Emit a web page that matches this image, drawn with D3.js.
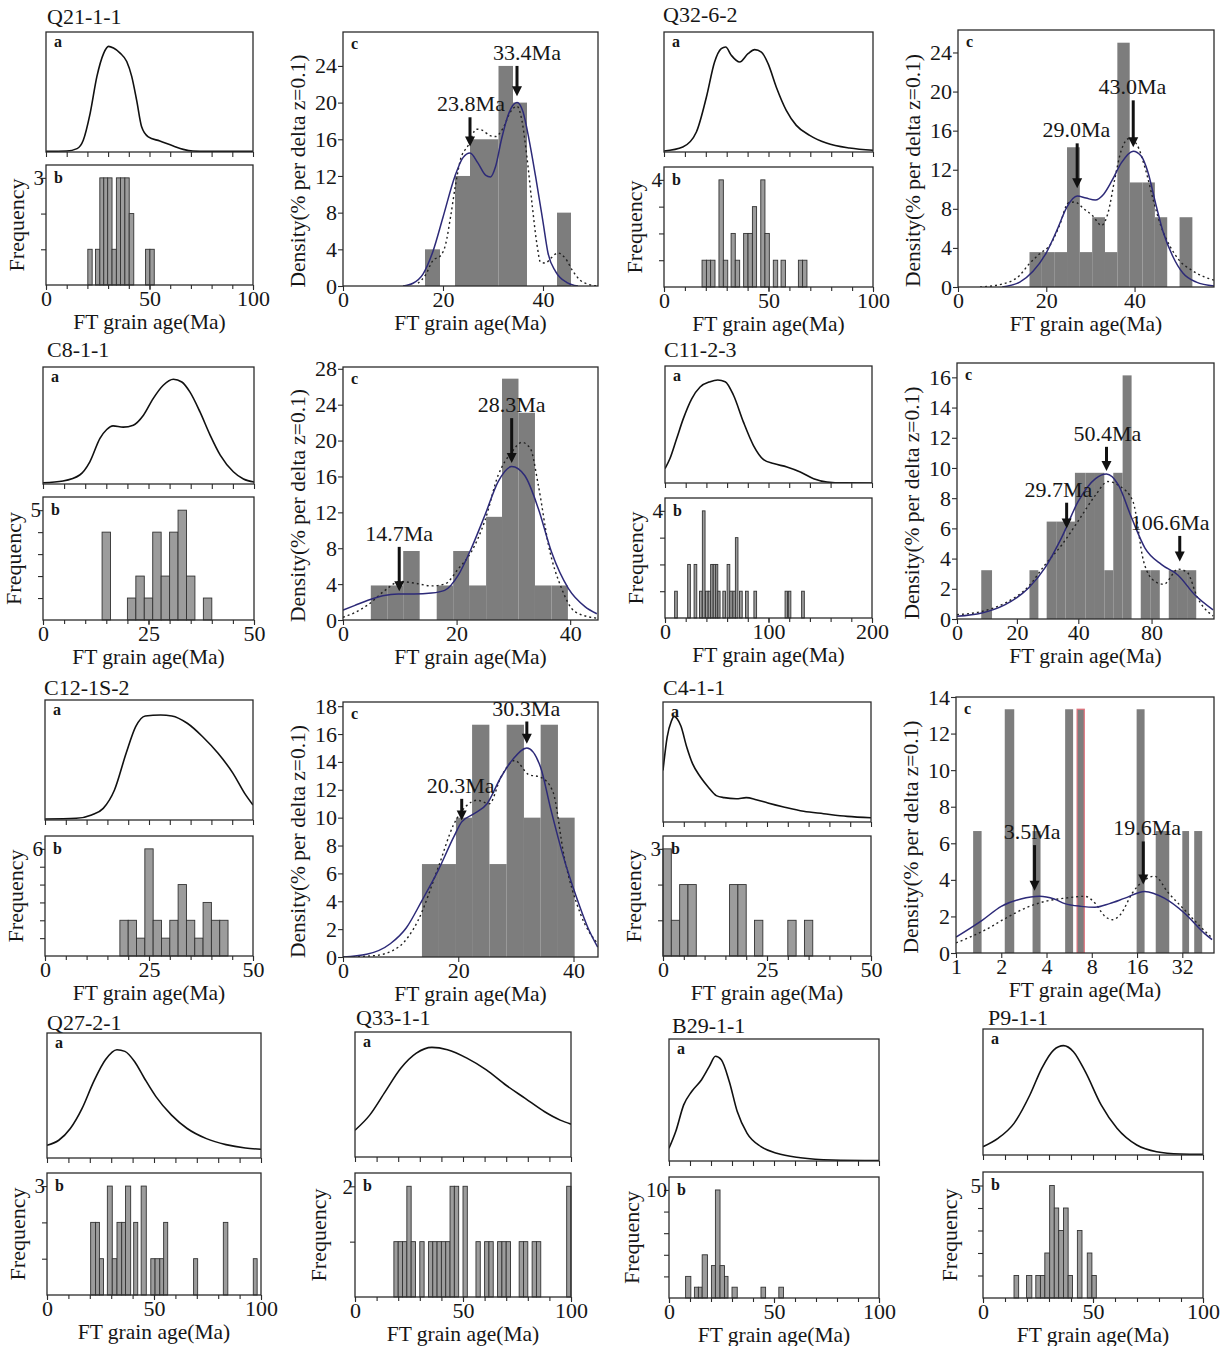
<!DOCTYPE html>
<html>
<head>
<meta charset="utf-8">
<script src="https://cdn.jsdelivr.net/npm/d3@7"></script>
<style>
  body { margin: 0; background: #fff; overflow: hidden; }
  svg { display: block; }
</style>
</head>
<body>
<svg id="chart" width="1231" height="1346"></svg>
<script>
// ---------------------------------------------------------------------------
// Fission-track grain-age data.
// xxxCurve : probability density (a), [age Ma, relative density 0-100]
// xxxHist  : grain-age histogram (b), [from Ma, to Ma, count]
// xxxBars  : density histogram (c), [from Ma, to Ma, % per delta z]
// xxxPdf   : fitted density (c, solid), [age Ma, %]
// xxxDotted: observed density (c, dotted), [age Ma, %]
// xxxPeaks : fitted peak ages (c)
// ---------------------------------------------------------------------------

// Q21-1-1
const q21Curve = [[0,0.6],[10,0.8],[15,2.8],[18,9.8],[21.3,32],[24.6,63],[27.8,82],[30.2,88],[32.6,86.6],[35.8,82.4],[39,75.4],[41.4,63],[43.8,43],[46.2,21],[49.4,12.6],[55,9.2],[61.5,5],[66.3,2.2],[71,0.8],[78,0.5],[100,0.5]];
const q21Hist = [[20.2,22.3,1],[23.9,26.0,1],[26.0,27.9,3],[27.9,29.8,3],[29.8,31.9,3],[31.9,34.0,1],[34.0,36.0,3],[36.0,38.1,3],[38.1,40.2,3],[40.2,42.4,2],[48.1,50.2,1],[50.2,52.3,1]];
const q21Bars = [[16.4,19.4,4],[22.4,25.4,12],[25.4,28.2,16],[28.2,31.1,16],[31.1,34.0,24],[34.0,36.8,20],[42.8,45.6,8]];
const q21Pdf = [[12,0],[14,0.3],[16,1.3],[18,3.8],[20,7.5],[22.4,12],[24,14],[25.4,14.5],[27,13.4],[28.5,12.1],[29.5,11.9],[30.5,13],[31.7,16],[33,18.6],[34.8,20],[36,19],[37.2,16],[38.5,12],[40,7],[41,3.6],[42.5,1.6],[44.7,0.4],[47,0]];
const q21Dotted = [[15,0.3],[16.5,1.2],[18,2.8],[19.5,3.3],[20.5,4.5],[21.5,7.5],[22.5,11],[23.5,13.8],[25,15.3],[26.7,17.1],[27.8,17],[29.4,16.4],[30.5,16.3],[32,17.2],[33.5,19],[34.8,19.6],[35.8,18],[36.8,14],[37.8,9],[38.8,4.5],[39.5,2.6],[40.5,2.5],[41.5,3],[43,3.6],[44.5,3],[46,1.6],[47.5,0.6],[49,0.2],[51,0]];
const q21Peaks = [
  { label: "23.8Ma", age: 25.4, tip: 15.2, tail: 18.4, at: 25.6 },
  { label: "33.4Ma", age: 34.8, tip: 20.7, tail: 24.0, at: 36.8 }
];

// Q32-6-2
const q32Curve = [[0,0.8],[9,4.2],[15.5,16.7],[20.3,45.8],[24.2,75],[27.4,86.1],[29.5,87.5],[32.2,80.6],[36.2,75],[40.2,81.9],[43.4,85.3],[46.6,83.3],[49.8,73.6],[53.7,54.2],[58.5,34.7],[63.3,22.2],[69.7,13.9],[77.7,7.5],[88.8,3.3],[100,1.4]];
const q32Hist = [[18.2,20.3,1],[20.3,22.3,1],[22.3,24.4,1],[26.3,28.4,4],[28.4,30.5,1],[32.1,34.1,2],[34.1,36.2,1],[38.1,40.2,2],[40.2,42.3,2],[42.3,44.3,3],[46.3,48.3,4],[48.3,50.4,2],[52.3,54.4,1],[56.0,58.1,1],[64.3,66.3,1],[66.3,68.4,1]];
const q32Bars = [[16.2,19.0,3.57],[19.0,21.8,3.57],[21.8,24.7,3.57],[24.7,27.6,14.3],[27.6,30.4,3.57],[30.4,33.3,7.14],[33.3,36.1,3.57],[36.1,38.9,25],[38.9,41.8,10.7],[41.8,44.6,10.7],[44.6,47.4,7.14],[50.2,53.1,7.14]];
const q32Pdf = [[10,0],[14,0.5],[17,1.6],[20,3.5],[22.5,5.9],[24.7,8.2],[27,9.3],[29,9.1],[31.1,8.9],[33,9.5],[34.9,10.9],[37,12.7],[39.7,13.9],[41.5,13.4],[43,11.8],[44.8,8.5],[46.5,5.6],[48.6,3.2],[51,1.4],[54,0.5],[58,0.1]];
const q32Dotted = [[5,0],[10,0.3],[14,1.2],[16,2.3],[18.5,3.4],[21,4.4],[23,6.3],[25,8.6],[26.5,8.7],[28.5,8],[30.5,7.3],[32.5,6.3],[34,7.6],[35.5,11],[37,14],[38.8,15.2],[40.5,14.6],[42.5,12],[44.3,8.8],[46,6.2],[48,4.2],[50,2.8],[53,1.7],[56,1],[58,0.7]];
const q32Peaks = [
  { label: "29.0Ma", age: 27.0, tip: 10.1, tail: 14.7, at: 26.8 },
  { label: "43.0Ma", age: 39.7, tip: 14.3, tail: 19.1, at: 39.5 }
];

// C8-1-1
const c8Curve = [[0,1.1],[4.75,2.6],[8.7,7.7],[11.1,19],[13.5,39],[15.1,46.6],[16.6,49.7],[19,48.6],[21.4,50.3],[23.8,58.8],[26.1,73],[28.5,84.4],[30.9,89.5],[32.9,87.2],[34.8,78.7],[37.2,61.6],[39.6,41.8],[42,24.7],[45.1,10.5],[47.5,4.3],[50,1.7]];
const c8Hist = [[14,16,4],[20,22,1],[22,24,2],[24,26,1],[26,28,4],[28,30,2],[30,32,4],[32,34,5],[34,36,2],[38,40,1]];
const c8Bars = [[4.9,7.8,3.85],[7.8,10.6,3.85],[10.6,13.5,7.69],[16.5,19.4,3.85],[19.4,22.2,7.69],[22.2,25.2,3.85],[25.2,28.0,11.5],[28.0,30.9,26.9],[30.9,33.8,23.1],[33.8,36.7,3.85],[36.7,39.6,3.85]];
const c8Pdf = [[0,1.1],[2,1.6],[4.4,2.2],[7,2.7],[9.7,2.9],[12.5,2.9],[15.6,3.0],[17.9,3.3],[20.3,5.0],[22.6,8.0],[25,11.7],[27.3,15.4],[29.7,17.1],[32,16.1],[34.4,12.4],[36.7,7.6],[39.7,3.5],[42.6,1.5],[44.7,0.7]];
const c8Dotted = [[0,0.3],[2,0.8],[4.4,1.7],[7.4,3.3],[10,4.3],[12.7,4.1],[15.6,3.8],[17.9,4.0],[20.3,5.7],[22.6,7.6],[25,11.1],[27.3,16.1],[29.7,18.7],[31.5,19.8],[33,19.1],[34.4,15],[36.2,8.3],[38.5,3.5],[40.9,0.9],[44.7,0.2]];
const c8Peaks = [
  { label: "14.7Ma", age: 9.9, tip: 3.2, tail: 8.15, at: 9.9 },
  { label: "28.3Ma", age: 29.7, tip: 17.5, tail: 22.5, at: 29.7 }
];

// C11-2-3
const c11Curve = [[0,12.3],[4.8,20.9],[11.3,38],[17.7,55],[25.8,72],[33.9,82],[43.6,86.6],[51,88],[58.1,86.6],[66.2,75],[75.8,52],[85.5,32],[95.2,20],[104.9,16.6],[117.8,13.7],[130.7,9.4],[143.6,3.7],[156.5,0.9],[172.6,0.1],[200,0]];
const c11Hist = [[9.3,11.9,1],[21.9,24.5,2],[28.1,30.7,2],[33.3,35.9,1],[36.1,38.7,4],[39.1,41.7,1],[41.7,44.1,1],[44.1,46.5,2],[46.6,49,2],[49,51,2],[51,53.2,1],[55.9,58.4,1],[60,62.6,2],[62.6,65,1],[65.6,68,1],[68,70.5,3],[72,74.6,1],[77.8,80.4,1],[85.9,88.5,1],[116,118.4,1],[119.2,121.6,1],[132,134.6,1]];
const c11Bars = [[8.1,11.7,3.23],[24.1,27.0,3.23],[29.7,32.8,6.45],[32.8,35.8,6.45],[35.8,38.9,6.45],[38.9,44,9.68],[44,49.1,9.68],[49.1,54.2,9.68],[54.2,59.1,3.23],[59.1,64.2,9.68],[64.2,69.1,16.13],[74.1,79.3,3.23],[79.3,84.5,3.23],[89.4,94.4,3.23],[94.4,99.4,3.23],[99.4,104.4,3.23]];
const c11Pdf = [[0,0.18],[8.3,0.4],[16.1,0.95],[23.8,2.05],[29.2,3.4],[34.6,5.4],[40,7.8],[49.4,9.3],[55.4,9.6],[61.8,8.9],[69.1,6.7],[76.4,4.7],[85.5,3.6],[94.5,2.9],[103.6,1.6],[113.6,0.6]];
const c11Dotted = [[0,0.29],[8.3,0.5],[16.1,1.06],[23.8,2.16],[29.2,3.6],[34.6,4.9],[40,6.5],[49.4,8.2],[56.1,9.1],[62.6,8.8],[69.8,7.8],[75.7,3.8],[81.7,2.5],[86.6,2.3],[94.5,3.3],[99.4,3.1],[105.1,1.4],[113.6,0.2]];
const c11Peaks = [
  { label: "29.7Ma", age: 36.2, tip: 6.0, tail: 7.7, at: 33.5 },
  { label: "50.4Ma", age: 55.4, tip: 9.8, tail: 11.4, at: 55.9 },
  { label: "106.6Ma", age: 95.4, tip: 3.8, tail: 5.5, at: 90.1 }
];
const c11AxisAges = [0, 20, 40, 80, 114.1];      // age stops of the z axis
const c11AxisStops = [0, 0.233, 0.472, 0.757, 1]; // matching axis fractions

// C12-1S-2
const c12Curve = [[0,0.8],[7.5,1.4],[11.2,4.2],[14,9.7],[16.7,25],[19.5,55.6],[21.8,77.8],[24.1,86.7],[27.8,87.5],[30.5,86.7],[34.2,80.6],[37.9,69.4],[41.6,55.6],[45.2,38.9],[48,22.2],[50,12.5]];
const c12Hist = [[18,20,2],[20,22,2],[22,24,1],[24,26,6],[26,28,2],[28,30,1],[30,32,2],[32,34,4],[34,36,2],[36,38,1],[38,40,3],[40,42,2],[42,44,2]];
const c12Bars = [[13.7,16.65,6.67],[16.65,19.6,6.67],[19.6,22.4,10],[22.4,25.4,16.67],[25.4,28.4,6.67],[28.4,31.4,16.67],[31.4,34.3,10],[34.3,37.3,16.67],[37.3,40.2,10]];
const c12Pdf = [[0,0],[4.1,0.19],[8.2,0.95],[11,2.1],[13.7,4.05],[16.5,6.2],[19.2,8.6],[20.6,9.7],[22.6,10.25],[25,11],[27.4,12.9],[29.5,14.2],[31.9,15.0],[34.3,13.6],[36,10.7],[38.1,7.4],[40.5,4.3],[42.5,2.1],[44.2,0.7]];
const c12Dotted = [[0,0],[5.5,0.1],[9.6,0.7],[13,2.6],[16.5,6.4],[19.2,9.5],[21.3,10.8],[23.3,11.25],[25.4,11],[27.4,12.9],[29.8,14.1],[32.2,13.1],[34.3,12.9],[36.4,11.9],[38.4,7.15],[41.2,3.1],[44.2,0.95]];
const c12Peaks = [
  { label: "20.3Ma", age: 20.6, tip: 9.8, tail: 11.35, at: 20.4 },
  { label: "30.3Ma", age: 31.9, tip: 15.3, tail: 16.9, at: 31.8 }
];

// C4-1-1
const c4Curve = [[0,43],[1.0,70.8],[2.0,84],[2.7,88],[3.4,86],[4.3,80],[5.7,62.5],[7.1,48.6],[9,37.5],[10.9,29],[12.8,22],[14.7,20.3],[17.6,19.4],[20,20.3],[22.4,18.6],[25.2,15.8],[29,12.5],[33.8,8.9],[38.6,6.9],[44.3,4.7],[50,3.6]];
const c4Hist = [[0,2,3],[2,4,1],[4,6,2],[6,8,2],[16,18,2],[18,20,2],[22,24,1],[30,32,1],[34,36,1]];
const c4Bars = [[1.30,1.48,6.67],[2.11,2.44,13.33],[3.23,3.65,6.67],[5.32,6.01,13.33],[6.39,7.13,13.33],[15.9,17.96,13.33],[21.3,26.2,6.67],[32,35.5,6.67],[38.4,43.4,6.67]];
const c4Pdf = [[1,0.87],[1.5,1.8],[2.0,2.55],[2.7,2.95],[3.6,3.1],[4.5,2.95],[5.3,2.7],[6.8,2.55],[8.4,2.5],[10.5,2.7],[13.3,3.0],[18,3.37],[24.3,3.0],[33,2.19],[44.7,1.09],[50.5,0.73]];
const c4Dotted = [[1,0.55],[1.58,1.28],[2.14,1.9],[2.9,2.46],[3.9,2.82],[5.3,3.0],[7.2,3.1],[8.4,2.73],[9.8,2.0],[11,1.82],[12.4,2.1],[14.9,3.28],[18,4.0],[20.9,4.2],[25.9,3.28],[33,2.37],[42,1.46],[50.5,0.82]];
const c4Peaks = [
  { label: "3.5Ma", age: 3.33, tip: 3.4, tail: 5.9, at: 3.21 },
  { label: "19.6Ma", age: 17.6, tip: 3.75, tail: 6.1, at: 18.7 }
];

// Q27-2-1
const q27Curve = [[0,10.2],[5.5,14.2],[10.9,23.6],[16.4,39.7],[21.8,61.1],[27.3,78.6],[32.7,86.6],[36.4,85.3],[40.9,77.2],[45.5,63.8],[50.9,49.1],[58.2,34.3],[65.5,23.6],[74.5,15.5],[83.6,10.7],[92.7,8],[100,7]];
const q27Hist = [[20.4,22.7,2],[22.7,24.5,2],[24.5,26.4,1],[28.2,30.5,3],[30.5,32.7,1],[32.7,34.9,2],[34.9,36.7,2],[36.7,39.1,3],[40.5,42.4,2],[44,46.4,3],[48.5,50.5,1],[50.5,52.7,1],[52.7,54.5,1],[54.5,56.4,2],[68.5,70.4,1],[82.4,84.5,2],[96.4,98.2,1]];

// Q33-1-1
const q33Curve = [[0,21.4],[6.8,33.5],[14,52.3],[21.2,71],[28.4,83.1],[35.6,87.7],[42.8,85.8],[51.8,79.1],[60.8,69.7],[69.8,57.6],[78.8,46.9],[87.8,36.2],[95,29.5],[100,26.3]];
const q33Hist = [[18,20,1],[20,22,1],[22,24,1],[24,26,2],[26,28,1],[30,32,1],[34,36,1],[36,38,1],[38,40,1],[40,42,1],[42,44,1],[44,46,2],[46,48,2],[50,52,2],[56,58,1],[60,62,1],[62,64,1],[66,68,1],[68,70,1],[70,72,1],[76,78,1],[78,80,1],[82,84,1],[84,86,1],[98,100,2]];

// B29-1-1
const b29Curve = [[0,10.4],[3.2,24.1],[7,46],[10.8,57],[15.5,66.6],[19.2,77.5],[22.1,85.8],[24.9,83],[28.7,65.2],[32.5,40.5],[37.2,22.7],[43.8,11.8],[51.3,6.3],[62.6,2.7],[77.7,0.8],[100,0.3]];
const b29Hist = [[7.9,10.4,2],[12.1,14,1],[14,15.8,1],[15.8,18.3,4],[20.2,22.1,3],[22.1,24.3,10],[24.3,26.4,3],[26.4,28.1,2],[30,32.5,1],[43.8,46,1],[52.3,54.5,1]];

// P9-1-1
const p9Curve = [[0,6.6],[6.8,13.2],[14.1,25.1],[21.3,47.6],[26.7,68.8],[32.1,83.3],[36.6,86.8],[41.1,82],[46.5,66.1],[53.7,39.7],[60.9,21.2],[69.9,7.9],[78.9,2.6],[89.7,0.8],[100,0.5]];
const p9Hist = [[14.1,16.2,1],[19.8,22.2,1],[24,26.1,1],[26.1,28.1,1],[28.1,30.3,2],[30.3,32.4,5],[32.4,34.4,4],[34.4,36.6,3],[36.6,38.7,4],[38.7,40.7,1],[42.9,45,3],[47.4,49.5,2],[49.5,51.5,1]];

// ---------------------------------------------------------------------------
// Panel layout
// ---------------------------------------------------------------------------
const samples = [
  { name: "Q21-1-1",  tx: 47,  ty: 24,   left: 46,  right: 253, aTop: 32,   aBot: 152,  bTop: 165,  bBot: 285,  xMax: 100, xTicks: [0,50,100],  fMax: 3,  fGap: 22, curve: q21Curve, hist: q21Hist },
  { name: "Q32-6-2",  tx: 663, ty: 22,   left: 664, right: 873, aTop: 32,   aBot: 152,  bTop: 167,  bBot: 287,  xMax: 100, xTicks: [0,50,100],  fMax: 4,  fGap: 22, curve: q32Curve, hist: q32Hist },
  { name: "C8-1-1",   tx: 47,  ty: 357,  left: 43,  right: 254, aTop: 367,  aBot: 484,  bTop: 497,  bBot: 620,  xMax: 50,  xTicks: [0,25,50],   fMax: 5,  fGap: 22, curve: c8Curve,  hist: c8Hist },
  { name: "C11-2-3",  tx: 664, ty: 357,  left: 665, right: 872, aTop: 366,  aBot: 483,  bTop: 498,  bBot: 618,  xMax: 200, xTicks: [0,100,200], fMax: 4,  fGap: 22, curve: c11Curve, hist: c11Hist },
  { name: "C12-1S-2", tx: 44,  ty: 695,  left: 45,  right: 253, aTop: 700,  aBot: 820,  bTop: 836,  bBot: 956,  xMax: 50,  xTicks: [0,25,50],   fMax: 6,  fGap: 22, curve: c12Curve, hist: c12Hist },
  { name: "C4-1-1",   tx: 663, ty: 695,  left: 663, right: 871, aTop: 702,  aBot: 822,  bTop: 836,  bBot: 956,  xMax: 50,  xTicks: [0,25,50],   fMax: 3,  fGap: 22, curve: c4Curve,  hist: c4Hist },
  { name: "Q27-2-1",  tx: 47,  ty: 1030, left: 47,  right: 261, aTop: 1033, aBot: 1158, bTop: 1173, bBot: 1295, xMax: 100, xTicks: [0,50,100],  fMax: 3,  fGap: 22, curve: q27Curve, hist: q27Hist },
  { name: "Q33-1-1",  tx: 356, ty: 1025, left: 355, right: 571, aTop: 1032, aBot: 1157, bTop: 1173, bBot: 1297, xMax: 100, xTicks: [0,50,100],  fMax: 2,  fGap: 29, curve: q33Curve, hist: q33Hist },
  { name: "B29-1-1",  tx: 672, ty: 1033, left: 669, right: 879, aTop: 1039, aBot: 1161, bTop: 1177, bBot: 1298, xMax: 100, xTicks: [0,50,100],  fMax: 10, fGap: 30, curve: b29Curve, hist: b29Hist },
  { name: "P9-1-1",   tx: 988, ty: 1025, left: 983, right: 1203, aTop: 1029, aBot: 1155, bTop: 1172, bBot: 1298, xMax: 100, xTicks: [0,50,100], fMax: 5,  fGap: 26, curve: p9Curve,  hist: p9Hist }
];

const densityPanels = [
  { left: 343, right: 598,  top: 32,  bottom: 286, type: "linear", xMax: 51,    xTicks: [0,20,40], yMax: 27.7,  yStep: 4, bars: q21Bars, pdf: q21Pdf, dotted: q21Dotted, peaks: q21Peaks },
  { left: 958, right: 1214, top: 30,  bottom: 287, type: "linear", xMax: 58,    xTicks: [0,20,40], yMax: 26.3,  yStep: 4, bars: q32Bars, pdf: q32Pdf, dotted: q32Dotted, peaks: q32Peaks },
  { left: 343, right: 598,  top: 367, bottom: 620, type: "linear", xMax: 44.9,  xTicks: [0,20,40], yMax: 28.2,  yStep: 4, bars: c8Bars,  pdf: c8Pdf,  dotted: c8Dotted,  peaks: c8Peaks },
  { left: 957, right: 1214, top: 363, bottom: 619, type: "z",      xTicks: [0,20,40,80],             yMax: 16.95, yStep: 2, bars: c11Bars, pdf: c11Pdf, dotted: c11Dotted, peaks: c11Peaks },
  { left: 343, right: 598,  top: 702, bottom: 957, type: "linear", xMax: 44.25, xTicks: [0,20,40], yMax: 18.3,  yStep: 2, bars: c12Bars, pdf: c12Pdf, dotted: c12Dotted, peaks: c12Peaks },
  { left: 956, right: 1214, top: 697, bottom: 953, type: "log",    xMin: 1, xMax: 52, xTicks: [1,2,4,8,16,32], yMax: 14, yStep: 2, bars: c4Bars, pdf: c4Pdf, dotted: c4Dotted, peaks: c4Peaks, redEdge: [4] }
];

// ---------------------------------------------------------------------------
const FONT = "'Liberation Serif', 'Times New Roman', Times, serif";
const INK = "#2b2b2b";
const TEXT = "#161616";
const svg = d3.select("#chart");
svg.append("rect").attr("width", 1231).attr("height", 1346).attr("fill", "#fff");

let clipCount = 0;
function clipRect(x, y, w, h) {
  const id = "clip" + (clipCount++);
  svg.append("clipPath").attr("id", id)
    .append("rect").attr("x", x).attr("y", y).attr("width", w).attr("height", h);
  return "url(#" + id + ")";
}

function styleAxis(g, size) {
  g.select(".domain").remove();
  g.selectAll(".tick line").attr("stroke", INK).attr("stroke-width", 1.1);
  g.selectAll(".tick text").attr("font-family", FONT).attr("font-size", size).attr("fill", TEXT);
}

function frame(x0, y0, x1, y1) {
  svg.append("rect").attr("x", x0).attr("y", y0)
    .attr("width", x1 - x0).attr("height", y1 - y0)
    .attr("fill", "none").attr("stroke", INK).attr("stroke-width", 1.3);
}

function panelLetter(txt, x, y) {
  svg.append("text").attr("x", x).attr("y", y).text(txt)
    .attr("font-family", FONT).attr("font-size", 16).attr("font-weight", "bold").attr("fill", TEXT);
}

// ---- a / b panels: density curve and grain-age histogram -------------------
samples.forEach(s => {
  const x = d3.scaleLinear().domain([0, s.xMax]).range([s.left, s.right]);
  const yA = d3.scaleLinear().domain([0, 100]).range([s.aBot, s.aTop]);
  const yB = d3.scaleLinear().domain([0, s.fMax * 1.12]).range([s.bBot, s.bTop]);
  const minorTicks = d3.range(11).map(i => i * s.xMax / 10);

  svg.append("text").attr("x", s.tx).attr("y", s.ty).text(s.name)
    .attr("font-family", FONT).attr("font-size", 22).attr("fill", TEXT);

  // panel a
  const clipA = clipRect(s.left, s.aTop, s.right - s.left, s.aBot - s.aTop);
  svg.append("path").datum(s.curve)
    .attr("clip-path", clipA)
    .attr("d", d3.line().x(d => x(d[0])).y(d => yA(d[1])).curve(d3.curveMonotoneX))
    .attr("fill", "none").attr("stroke", "#111").attr("stroke-width", 1.6);
  frame(s.left, s.aTop, s.right, s.aBot);
  svg.append("g").attr("transform", `translate(0,${s.aBot})`)
    .call(d3.axisBottom(x).tickValues(minorTicks).tickSize(5).tickFormat(""))
    .call(g => styleAxis(g, 20));
  panelLetter("a", s.left + 8, s.aTop + 15);

  // panel b
  svg.append("g").selectAll("rect").data(s.hist).join("rect")
    .attr("x", d => x(d[0]))
    .attr("width", d => x(d[1]) - x(d[0]))
    .attr("y", d => yB(d[2]))
    .attr("height", d => s.bBot - yB(d[2]))
    .attr("fill", "#9c9c9c").attr("stroke", "#333").attr("stroke-width", 0.9);
  frame(s.left, s.bTop, s.right, s.bBot);
  svg.append("g").attr("transform", `translate(0,${s.bBot})`)
    .call(d3.axisBottom(x).tickValues(minorTicks).tickSize(4).tickFormat(""))
    .call(g => styleAxis(g, 20));
  svg.append("g").attr("transform", `translate(0,${s.bBot})`)
    .call(d3.axisBottom(x).tickValues(s.xTicks).tickSize(5).tickPadding(0).tickFormat(d3.format("d")))
    .call(g => styleAxis(g, 22));
  const fTicks = s.fMax <= 6 ? d3.range(1, s.fMax + 1) : d3.range(2, s.fMax + 1, 2);
  svg.append("g").attr("transform", `translate(${s.left},0)`)
    .call(d3.axisLeft(yB).tickValues(fTicks).tickSize(5).tickPadding(-3)
      .tickFormat(d => d === s.fMax ? String(d) : ""))
    .call(g => styleAxis(g, 21));
  panelLetter("b", s.left + 8, s.bTop + 18);

  svg.append("text")
    .attr("transform", `translate(${s.left - s.fGap},${(s.bTop + s.bBot) / 2}) rotate(-90)`)
    .attr("text-anchor", "middle").text("Frequency")
    .attr("font-family", FONT).attr("font-size", 22).attr("fill", TEXT);
  svg.append("text")
    .attr("x", (s.left + s.right) / 2).attr("y", s.bBot + 44)
    .attr("text-anchor", "middle").text("FT grain age(Ma)")
    .attr("font-family", FONT).attr("font-size", 21.5).attr("fill", TEXT);
});

// ---- c panels: density histogram with fitted peaks -------------------------
densityPanels.forEach(p => {
  let x;
  if (p.type === "log") {
    x = d3.scaleLog().base(2).domain([p.xMin, p.xMax]).range([p.left, p.right]);
  } else if (p.type === "z") {
    x = d3.scaleLinear().domain(c11AxisAges)
      .range(c11AxisStops.map(f => p.left + f * (p.right - p.left)));
  } else {
    x = d3.scaleLinear().domain([0, p.xMax]).range([p.left, p.right]);
  }
  const y = d3.scaleLinear().domain([0, p.yMax]).range([p.bottom, p.top]);
  const clip = clipRect(p.left, p.top, p.right - p.left, p.bottom - p.top);
  const red = p.redEdge || [];

  svg.append("g").attr("clip-path", clip).selectAll("rect").data(p.bars).join("rect")
    .attr("x", d => x(d[0]))
    .attr("width", d => x(d[1]) - x(d[0]))
    .attr("y", d => y(d[2]))
    .attr("height", d => p.bottom - y(d[2]))
    .attr("fill", "#7d7d7d")
    .attr("stroke", (d, i) => red.includes(i) ? "#e0707a" : "none")
    .attr("stroke-width", 1.2);

  const line = d3.line().x(d => x(d[0])).y(d => y(d[1])).curve(d3.curveMonotoneX);
  svg.append("path").datum(p.dotted).attr("clip-path", clip).attr("d", line)
    .attr("fill", "none").attr("stroke", "#222").attr("stroke-width", 1.4)
    .attr("stroke-dasharray", "2,3");
  svg.append("path").datum(p.pdf).attr("clip-path", clip).attr("d", line)
    .attr("fill", "none").attr("stroke", "#2d2a78").attr("stroke-width", 1.5);

  frame(p.left, p.top, p.right, p.bottom);

  // fitted peak arrows
  p.peaks.forEach(k => {
    const ax = x(k.age), yTip = y(k.tip), yTail = y(k.tail);
    svg.append("line").attr("x1", ax).attr("x2", ax)
      .attr("y1", yTail).attr("y2", yTip - 8)
      .attr("stroke", "#111").attr("stroke-width", 3);
    svg.append("path")
      .attr("d", `M${ax - 5},${yTip - 10}L${ax + 5},${yTip - 10}L${ax},${yTip}Z`)
      .attr("fill", "#111");
    svg.append("text").attr("x", x(k.at)).attr("y", yTail - 6)
      .attr("text-anchor", "middle").text(k.label)
      .attr("font-family", FONT).attr("font-size", 22).attr("fill", TEXT);
  });

  // axes
  svg.append("g").attr("transform", `translate(0,${p.bottom})`)
    .call(d3.axisBottom(x).tickValues(p.xTicks).tickSize(5).tickPadding(0).tickFormat(d3.format("d")))
    .call(g => styleAxis(g, 22));
  const yTicks = d3.range(0, p.yMax + 0.01, p.yStep);
  svg.append("g").attr("transform", `translate(${p.left},0)`)
    .call(d3.axisLeft(y).tickValues(yTicks).tickSize(5).tickPadding(1).tickFormat(d3.format("d")))
    .call(g => styleAxis(g, 22));

  panelLetter("c", p.left + 8, p.top + 17);

  svg.append("text")
    .attr("transform", `translate(${p.left - 38},${(p.top + p.bottom) / 2 + 12}) rotate(-90)`)
    .attr("text-anchor", "middle").text("Density(% per delta z=0.1)")
    .attr("font-family", FONT).attr("font-size", 21.5).attr("fill", TEXT);
  svg.append("text")
    .attr("x", (p.left + p.right) / 2).attr("y", p.bottom + 44)
    .attr("text-anchor", "middle").text("FT grain age(Ma)")
    .attr("font-family", FONT).attr("font-size", 21.5).attr("fill", TEXT);
});
</script>
</body>
</html>
